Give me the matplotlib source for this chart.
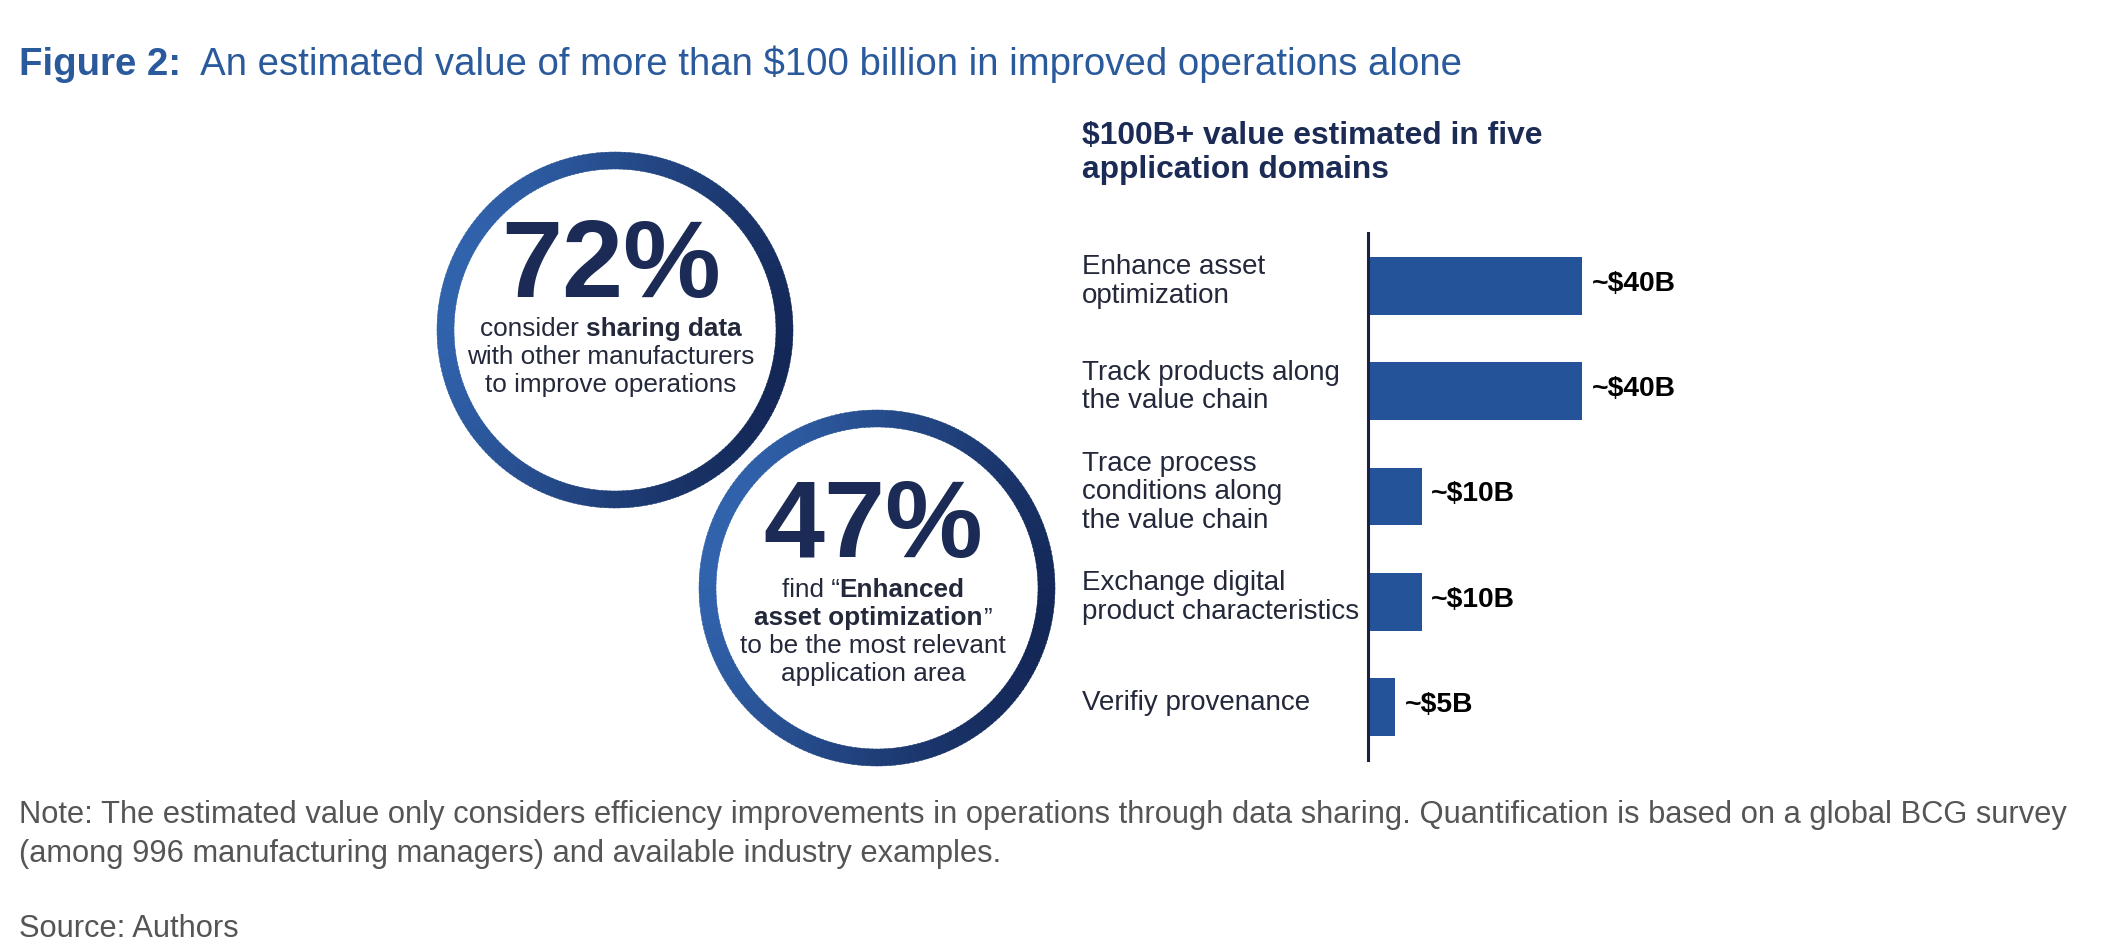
"""
Figure 2 recreation: two stat circles plus horizontal bars of value by domain.
"""
import numpy as np
import matplotlib.pyplot as plt
from matplotlib.patches import Wedge
from matplotlib import transforms
from matplotlib.colors import to_rgb

plt.rcParams['font.family'] = ['Liberation Sans', 'DejaVu Sans']

# ---- data ----
title_bold = "Figure 2:"
title_rest = "  An estimated value of more than $100 billion in improved operations alone"
bar_title = "$100B+ value estimated in five\napplication domains"
categories = [
    "Enhance asset\noptimization",
    "Track products along\nthe value chain",
    "Trace process\nconditions along\nthe value chain",
    "Exchange digital\nproduct characteristics",
    "Verifiy provenance",
]
values = [40, 40, 10, 10, 5]
value_labels = ["~$40B", "~$40B", "~$10B", "~$10B", "~$5B"]

stat_numbers = ["72%", "47%"]
stat_lines = [
    [[("consider ", "normal"), ("sharing data", "bold")],
     [("with other manufacturers", "normal")],
     [("to improve operations", "normal")]],
    [[("find \u201c", "normal"), ("Enhanced", "bold")],
     [("asset optimization", "bold"), ("\u201d", "normal")],
     [("to be the most relevant", "normal")],
     [("application area", "normal")]],
]
note_lines = [
    "Note: The estimated value only considers efficiency improvements in operations through data sharing. Quantification is based on a global BCG survey",
    "(among 996 manufacturing managers) and available industry examples.",
]
source_text = "Source: Authors"

# ---- style ----
W, H = 2118, 952
BLUE = "#2a5a9c"
NAVY = "#1b2b55"
TEXT = "#23283a"
BAR = "#25539a"
RING_LIGHT = "#3163ad"
RING_DARK = "#142858"

fig = plt.figure(figsize=(W / 100, H / 100), dpi=100)
fig.patch.set_facecolor("white")
canvas = fig.add_axes([0, 0, 1, 1])
canvas.set_xlim(0, W)
canvas.set_ylim(H, 0)
canvas.axis("off")
renderer = fig.canvas.get_renderer()


def text_width(s, size, weight):
    t = canvas.text(0, 0, s + "|", fontsize=size, fontweight=weight)
    b = canvas.text(0, 0, "|", fontsize=size, fontweight=weight)
    w = t.get_window_extent(renderer).width - b.get_window_extent(renderer).width
    t.remove()
    b.remove()
    return w


def draw_runs(x, yc, runs, size, color, ha="center"):
    em = size * 100 / 72
    base = yc + 0.36 * em
    widths = [text_width(s, size, wt) for s, wt in runs]
    x0 = x - sum(widths) / 2 if ha == "center" else x
    for (s, wt), w in zip(runs, widths):
        canvas.text(x0, base, s, fontsize=size, fontweight=wt, color=color,
                    ha="left", va="baseline")
        x0 += w


def ring(cx, cy, r_out, thick, n=240):
    c0, c1 = np.array(to_rgb(RING_LIGHT)), np.array(to_rgb(RING_DARK))
    edges = np.linspace(0, 360, n + 1)
    for a0, a1 in zip(edges[:-1], edges[1:]):
        mid = np.radians((a0 + a1) / 2)
        t = (1 + np.cos(mid - np.radians(15))) / 2
        col = c0 + (c1 - c0) * t
        canvas.add_patch(Wedge((cx, cy), r_out, a0, a1 + 0.3, width=thick,
                               facecolor=col, edgecolor=col, linewidth=0.3))


# title
draw_runs(19, 61, [(title_bold, "bold"), (title_rest, "normal")], 27.6, BLUE, ha="left")

# circles
centers = [(615, 330), (877, 588)]
num_y = [258, 517]
line_y0 = [327, 588]
for (cx, cy), num, lines, ny, ly in zip(centers, stat_numbers, stat_lines, num_y, line_y0):
    ring(cx, cy, 178, 17)
    draw_runs(cx - 4, ny, [(num, "bold")], 79, NAVY)
    for k, runs in enumerate(lines):
        draw_runs(cx - 4, ly + k * 27.8, runs, 18.8, TEXT)

# bar chart
ax = fig.add_axes([1368 / W, 1 - 760 / H, 321 / W, 527 / H])
ax.set_facecolor("none")
ypos = np.arange(len(categories))
ax.barh(ypos, values, height=0.55, color=BAR)
ax.set_xlim(0, 60)
ax.set_ylim(len(categories) - 0.5, -0.5)
for s in ["top", "right", "bottom"]:
    ax.spines[s].set_visible(False)
ax.spines["left"].set_color("#1b2140")
ax.spines["left"].set_linewidth(2.2)
ax.set_xticks([])
ax.set_yticks([])
lab_tr = transforms.blended_transform_factory(ax.transAxes, ax.transData)
for y, lab in zip(ypos, categories):
    ax.text((1082 - 1368) / 321, y - 0.04, lab, transform=lab_tr, ha="left", va="center",
            fontsize=20, color=TEXT, linespacing=1.12)
for y, v, lab in zip(ypos, values, value_labels):
    ax.annotate(lab, xy=(v, y), xytext=(7, 1.5), textcoords="offset points",
                ha="left", va="center", fontsize=20.3, fontweight="bold", color="black")

canvas.text(1082, 153, bar_title, fontsize=22.9, fontweight="bold", color=NAVY,
            ha="left", va="center", linespacing=1.18)

# notes
for k, line in enumerate(note_lines):
    draw_runs(19, 812 + k * 39, [(line, "normal")], 22.2, "#555555", ha="left")
draw_runs(19, 926, [(source_text, "normal")], 22.2, "#555555", ha="left")

fig.savefig("out.png", dpi=100, facecolor="white")
